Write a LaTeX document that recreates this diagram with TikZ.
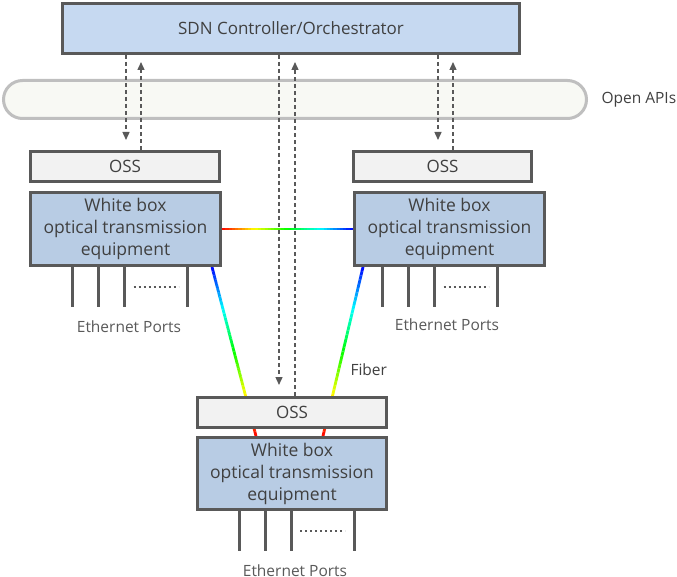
\documentclass[tikz,border=0pt]{standalone}
\usepackage{fontspec}
\setmainfont{Open Sans}
\usetikzlibrary{calc,positioning,arrows.meta,backgrounds}

\definecolor{edgegray}{HTML}{595959}
\definecolor{txtgray}{HTML}{404040}
\definecolor{ctrlblue}{HTML}{C6D9F1}
\definecolor{wbblue}{HTML}{B8CCE4}
\definecolor{ossgray}{HTML}{F2F2F2}
\definecolor{pillgray}{HTML}{BFBFBF}
\definecolor{pillfill}{HTML}{F8F9F4}

\tikzset{
  ctrlbox/.style={draw=edgegray, line width=3pt, fill=ctrlblue, inner sep=0pt,
    minimum width=457pt, minimum height=50pt, text=txtgray, font=\fontsize{17}{20}\selectfont},
  ossbox/.style={draw=edgegray, line width=3pt, fill=ossgray, inner sep=0pt,
    minimum height=30pt, text=txtgray, font=\fontsize{17}{20}\selectfont},
  wbbox/.style={draw=edgegray, line width=3pt, fill=wbblue, inner sep=0pt, align=center,
    minimum width=190pt, minimum height=73pt, text=txtgray, font=\fontsize{17.5}{22}\selectfont},
  apipill/.style={draw=pillgray, line width=3pt, fill=pillfill, rounded corners=19pt,
    minimum width=583pt, minimum height=38pt},
  apiarrow/.style={edgegray, line width=1.4pt, dash pattern=on 4pt off 3pt,
    -{Triangle[length=8pt,width=7pt]}},
  fiber/.style={line width=2.8pt},
  port/.style={edgegray, line width=3pt},
  portdots/.style={edgegray, line width=2pt, dash pattern=on 2pt off 3pt},
  lbl/.style={text=txtgray, font=\fontsize{15.5}{18}\selectfont}
}

% rainbow fiber: red at #1, blue at #2
\newcommand{\fiberline}[2]{%
  \foreach \k in {1,...,40}{%
    \pgfmathsetmacro{\fhue}{6*\k-3}%
    \definecolor{fibcol}{Hsb}{\fhue,1,1}%
    \draw[fiber, fibcol] ($(#1)!{(\k-1)/40}!(#2)$) -- ($(#1)!{\k/40}!(#2)$);
  }%
}

% ethernet ports under a box
\newcommand{\ports}[2]{%
  \foreach \dx in {-53,-27,-1,62}
    \draw[port] ([xshift=\dx pt+#2 pt]#1.south) -- ++(0,40);
  \draw[portdots] ([xshift=8pt+#2 pt,yshift=-20pt]#1.south) -- ++(45,0);
}

\begin{document}
\begin{tikzpicture}[x=1pt,y=-1pt]
            \useasboundingbox (0,0) rectangle (677,577);

            \node[ctrlbox] (ctrl) at (291,28.5) {SDN Controller/Orchestrator};
            \node[apipill] (api) at (295,99.5) {};
            \node[lbl, anchor=west] (apilbl) at (598,100) {Open APIs};

            \node[ossbox, minimum width=189pt] (ossL) at (125,166.5) {OSS};
            \node[ossbox, minimum width=178pt] (ossR) at (442.5,166.5) {OSS};
            \node[ossbox, minimum width=189pt] (ossB) at (292,412.5) {OSS};

            \node[wbbox] (boxL) at (125.5,229) {White box\\optical transmission\\equipment};
            \node[wbbox] (boxR) at (449.5,229) {White box\\optical transmission\\equipment};
            \node[wbbox, minimum width=189pt, minimum height=72pt] (boxB) at (292,473.5) {White box\\optical transmission\\equipment};

            % fibers
            \coordinate (fLtop) at ([xshift=-10pt]boxL.south east);
            \coordinate (fLbot) at ([xshift=-36pt]boxB.north);
            \coordinate (fRtop) at ([xshift=10pt]boxR.south west);
            \coordinate (fRbot) at ([xshift=31pt]boxB.north);
            \begin{scope}[on background layer]
              \fiberline{boxL.east}{boxR.west}
              \fiberline{fLbot}{fLtop}
              \fiberline{fRbot}{fRtop}
            \end{scope}
            \node[lbl, anchor=west] (fiberlbl) at (347,370) {Fiber};

            % open API arrows
            \draw[apiarrow] ([xshift=1pt]ossL.north |- ctrl.south) -- ([xshift=1pt,yshift=10pt]ossL.north);
            \draw[apiarrow, shorten >=7pt] ([xshift=16pt]ossL.north) -- ([xshift=16pt]ossL.north |- ctrl.south);
            \draw[apiarrow] ([xshift=-4.5pt]ossR.north |- ctrl.south) -- ([xshift=-4.5pt,yshift=10pt]ossR.north);
            \draw[apiarrow, shorten >=7pt] ([xshift=10.5pt]ossR.north) -- ([xshift=10.5pt]ossR.north |- ctrl.south);
            \draw[apiarrow] ([xshift=-13pt]ossB.north |- ctrl.south) -- ([xshift=-13pt,yshift=11pt]ossB.north);
            \draw[apiarrow, shorten >=7pt] ([xshift=3pt]ossB.north) -- ([xshift=3pt]ossB.north |- ctrl.south);

            % ethernet ports
            \ports{boxL}{0}
            \ports{boxR}{-14}
            \ports{boxB}{0}
            \node[lbl, text=edgegray] (ethL) at (129,327) {Ethernet Ports};
            \node[lbl, text=edgegray] (ethR) at (447,325) {Ethernet Ports};
            \node[lbl, text=edgegray] (ethB) at (295,571) {Ethernet Ports};
\end{tikzpicture}
\end{document}
